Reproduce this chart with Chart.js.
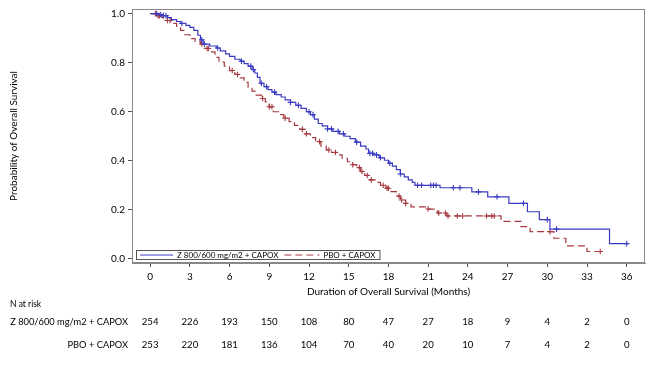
<!DOCTYPE html>
<html>
<head>
<meta charset="utf-8">
<script src="https://cdn.jsdelivr.net/npm/chart.js@4.4.0/dist/chart.umd.min.js"></script>
<style>
  html, body { margin: 0; padding: 0; background: #fff; }
  #wrap { width: 653px; height: 367px; position: relative; }
</style>
</head>
<body>
<div id="wrap"><canvas id="km"></canvas></div>
<script>
// arms and number-at-risk table
const armA = "Z 800/600 mg/m2 + CAPOX";
const armB = "PBO + CAPOX";
const months = [0, 3, 6, 9, 12, 15, 18, 21, 24, 27, 30, 33, 36];
const riskA = [254, 226, 193, 150, 108, 80, 47, 27, 18, 9, 4, 2, 0];
const riskB = [253, 220, 181, 136, 104, 70, 40, 20, 10, 7, 4, 2, 0];
const yTicks = [0, 0.2, 0.4, 0.6, 0.8, 1.0];

// KM steps (time in months, survival after the step)
const timeA = [0, 0.6, 1.0, 1.3, 1.6, 2.0, 2.3, 2.7, 3.0, 3.3, 3.6, 3.8, 4.0, 4.5, 5.0, 5.3, 5.7, 6.0, 6.4, 6.8,
  7.1, 7.4, 7.7, 7.9, 8.1, 8.3, 8.6, 8.9, 9.2, 9.5, 9.9, 10.2, 10.6, 11.0, 11.4, 11.8, 12.1, 12.4, 12.7, 13.0,
  13.4, 13.8, 14.3, 14.7, 15.1, 15.5, 15.9, 16.3, 16.5, 16.9, 17.3, 17.7, 18.0, 18.3, 18.6, 18.9, 19.2, 19.5,
  19.8, 20.0, 21.9, 24.3, 25.5, 27.1, 28.5, 29.4, 30.2, 34.7, 36.0];
const survA = [1.0, 0.996, 0.992, 0.984, 0.976, 0.968, 0.960, 0.952, 0.944, 0.932, 0.912, 0.893, 0.876, 0.868, 0.860, 0.848, 0.836, 0.826, 0.814, 0.806,
  0.796, 0.786, 0.772, 0.758, 0.740, 0.716, 0.702, 0.690, 0.680, 0.670, 0.660, 0.648, 0.638, 0.626, 0.614, 0.600, 0.588, 0.570, 0.552, 0.542,
  0.530, 0.520, 0.510, 0.500, 0.490, 0.476, 0.460, 0.448, 0.430, 0.424, 0.412, 0.402, 0.390, 0.378, 0.364, 0.346, 0.334, 0.322,
  0.312, 0.300, 0.290, 0.273, 0.253, 0.226, 0.192, 0.160, 0.121, 0.062, 0.062];
const censA = [0.5, 0.8, 1.0, 1.2, 2.4, 3.9, 4.1, 5.1, 6.9, 7.6, 7.8, 8.4, 8.8, 9.4, 10.6, 11.2, 12.0, 12.3, 13.4, 13.7,
  14.2, 14.6, 15.6, 16.6, 16.8, 17.1, 17.4, 18.1, 18.9, 20.2, 20.5, 21.2, 21.4, 21.6, 22.9, 23.4, 24.8, 26.2, 28.2, 30.0, 30.7, 36.0];

const timeB = [0, 0.5, 0.9, 1.2, 1.6, 2.0, 2.3, 2.6, 3.0, 3.4, 3.8, 4.1, 4.5, 4.9, 5.2, 5.6, 6.0, 6.4, 6.8, 7.1,
  7.4, 7.7, 8.0, 8.4, 8.7, 9.0, 9.3, 9.7, 10.1, 10.5, 10.9, 11.3, 11.7, 12.1, 12.5, 12.9, 13.3, 13.7, 14.1, 14.5,
  14.9, 15.3, 15.6, 15.9, 16.2, 16.6, 17.0, 17.4, 17.8, 18.2, 18.6, 18.9, 19.3, 19.7, 20.9, 21.7, 22.4, 26.5,
  28.0, 28.7, 30.5, 31.4, 33.0, 34.0];
const survB = [1.0, 0.992, 0.984, 0.972, 0.960, 0.948, 0.932, 0.914, 0.898, 0.886, 0.876, 0.858, 0.844, 0.822, 0.802, 0.786, 0.768, 0.752, 0.738, 0.720,
  0.700, 0.684, 0.668, 0.654, 0.640, 0.620, 0.600, 0.588, 0.574, 0.560, 0.544, 0.528, 0.510, 0.494, 0.478, 0.460, 0.444, 0.434, 0.424, 0.410,
  0.396, 0.384, 0.372, 0.356, 0.340, 0.322, 0.312, 0.300, 0.288, 0.274, 0.256, 0.240, 0.226, 0.212, 0.203, 0.187, 0.175, 0.153,
  0.131, 0.111, 0.084, 0.053, 0.030, 0.030];
const censB = [0.4, 0.6, 0.7, 1.3, 1.5, 3.9, 4.3, 4.4, 6.2, 6.6, 8.5, 9.0, 9.2, 10.2, 11.5, 11.8, 12.8, 13.5, 14.0, 15.3,
  15.8, 16.0, 16.4, 16.7, 17.6, 17.9, 18.0, 18.8, 19.0, 19.3, 21.0, 21.8, 22.3, 22.5, 23.2, 23.6, 25.4, 25.8, 26.0, 30.2, 34.0];

const blue = "#3a3ac2";
const red = "#a63a40";
const fontFam = "Lato, 'Liberation Sans', Arial, sans-serif";

function levelAt(times, surv, t) {
  let v = surv[0];
  for (let i = 0; i < times.length; i++) {
    if (times[i] <= t) v = surv[i];
  }
  return v;
}

function curve(times, surv) {
  return times.map((t, i) => ({ x: t, y: surv[i] }));
}

function marks(cens, times, surv) {
  return cens.map(t => ({ x: t, y: levelAt(times, surv, t) }));
}

const extras = {
  id: "extras",
  afterDraw(chart) {
    const ctx = chart.ctx;
    const area = chart.chartArea;
    const xs = chart.scales.x;
    ctx.save();

    // frame
    ctx.strokeStyle = "#888";
    ctx.lineWidth = 1;
    ctx.strokeRect(area.left + 0.5, area.top + 0.5, area.right - area.left - 1, area.bottom - area.top - 1);

    // legend box inside the plot
    ctx.font = "8px " + fontFam;
    ctx.textBaseline = "middle";
    ctx.textAlign = "left";
    const ly = 255;
    let lx = area.left + 8;
    const start = area.left + 4;
    ctx.strokeStyle = blue;
    ctx.beginPath(); ctx.moveTo(lx, ly); ctx.lineTo(lx + 33, ly); ctx.stroke();
    lx += 37;
    ctx.fillStyle = "#000";
    ctx.fillText(armA, lx, ly);
    lx += ctx.measureText(armA).width + 6;
    ctx.strokeStyle = red;
    ctx.setLineDash([7, 4]);
    ctx.beginPath(); ctx.moveTo(lx, ly); ctx.lineTo(lx + 35, ly); ctx.stroke();
    ctx.setLineDash([]);
    lx += 39;
    ctx.fillText(armB, lx, ly);
    lx += ctx.measureText(armB).width + 4;
    ctx.strokeStyle = "#555";
    ctx.strokeRect(start + 0.5, 250.5, lx - start, 9);

    // axis titles
    ctx.font = "10px " + fontFam;
    ctx.textAlign = "center";
    ctx.fillText("Duration of Overall Survival (Months)", (area.left + area.right) / 2, 292);
    ctx.save();
    ctx.translate(14, (area.top + area.bottom) / 2);
    ctx.rotate(-Math.PI / 2);
    ctx.fillText("Probability of Overall Survival", 0, 0);
    ctx.restore();

    // number at risk
    ctx.font = "8.5px " + fontFam;
    ctx.textAlign = "left";
    ctx.fillText("N at risk", 10, 304);
    ctx.font = "9.3px " + fontFam;
    ctx.textAlign = "right";
    ctx.fillText(armA, 128, 322);
    ctx.fillText(armB, 128, 345);
    ctx.font = "9.6px " + fontFam;
    ctx.textAlign = "center";
    months.forEach((m, i) => {
      const px = xs.getPixelForValue(m);
      ctx.fillText(String(riskA[i]), px, 322);
      ctx.fillText(String(riskB[i]), px, 345);
    });
    ctx.restore();
  }
};

new Chart(document.getElementById("km"), {
  data: {
    datasets: [
      { type: "line", label: armA, data: curve(timeA, survA), borderColor: blue, borderWidth: 1.2,
        stepped: "before", pointRadius: 0, fill: false },
      { type: "scatter", label: armA + " censored", data: marks(censA, timeA, survA), pointStyle: "cross",
        pointRadius: 2.8, borderColor: blue, backgroundColor: blue, borderWidth: 1.1 },
      { type: "line", label: armB, data: curve(timeB, survB), borderColor: red, borderWidth: 1.2,
        borderDash: [7, 4], stepped: "before", pointRadius: 0, fill: false },
      { type: "scatter", label: armB + " censored", data: marks(censB, timeB, survB), pointStyle: "cross",
        pointRadius: 2.8, borderColor: red, backgroundColor: red, borderWidth: 1.1 }
    ]
  },
  options: {
    responsive: true,
    maintainAspectRatio: false,
    animation: false,
    layout: { padding: { top: 8, right: 8, left: 0, bottom: 0 } },
    plugins: { legend: { display: false }, tooltip: { enabled: false } },
    scales: {
      x: {
        type: "linear", min: -1.37, max: 37.38,
        afterBuildTicks: s => { s.ticks = months.map(v => ({ value: v })); },
        afterFit: s => { s.height = 104; },
        ticks: { font: { size: 10, family: fontFam }, color: "#000", padding: 4, maxRotation: 0, autoSkip: false },
        grid: { drawOnChartArea: false, tickLength: 4, color: "#555" },
        border: { color: "#888" }
      },
      y: {
        type: "linear", min: -0.017, max: 1.019,
        afterBuildTicks: s => { s.ticks = yTicks.map(v => ({ value: v })); },
        afterFit: s => { s.width = 132; },
        ticks: { font: { size: 10, family: fontFam }, color: "#000", padding: 3, callback: v => v.toFixed(1) },
        grid: { drawOnChartArea: false, tickLength: 4, color: "#555" },
        border: { color: "#888" }
      }
    }
  },
  plugins: [extras]
});
</script>
</body>
</html>
